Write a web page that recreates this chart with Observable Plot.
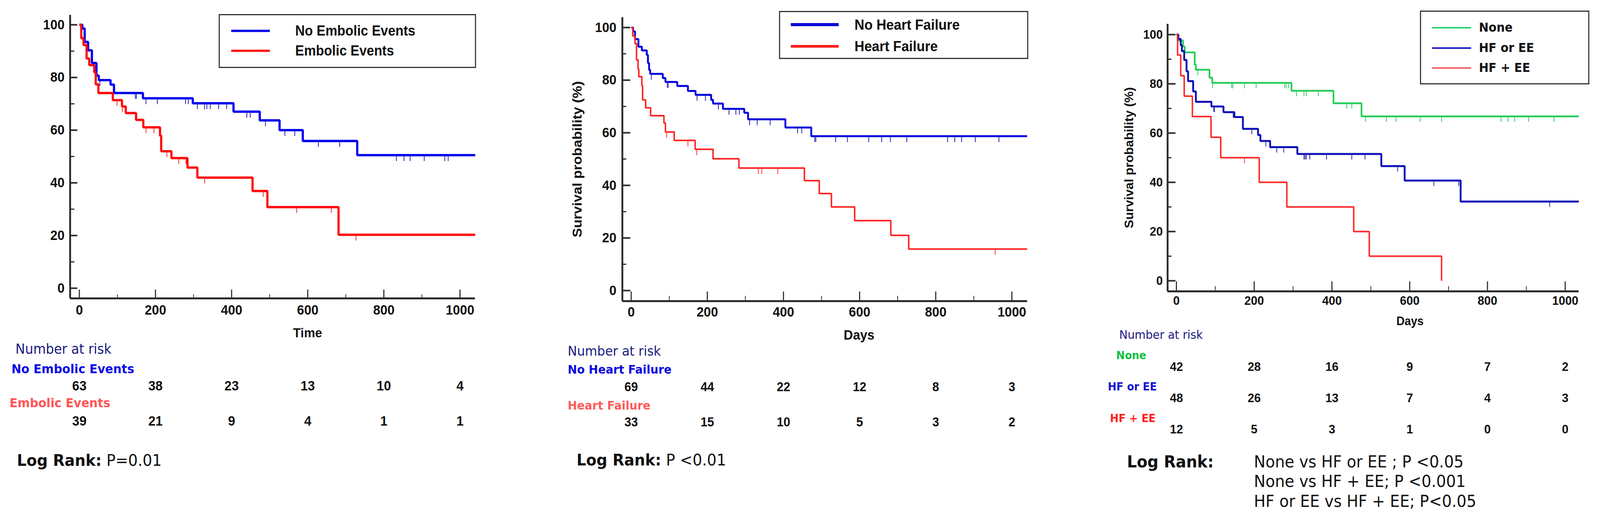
<!DOCTYPE html>
<html><head><meta charset="utf-8">
<script src="https://cdn.jsdelivr.net/npm/d3@7"></script>
<script src="https://cdn.jsdelivr.net/npm/@observablehq/plot@0.6"></script>
<style>
html,body{margin:0;padding:0;background:#fff;overflow:hidden;}
#page{position:relative;width:4346px;height:1328px;overflow:hidden;background:#fff;transform-origin:0 0;}
.panel{position:absolute;top:0;}
.t{position:absolute;white-space:nowrap;line-height:1;transform:translateY(-50%);}
.box{position:absolute;border:3px solid #333;box-sizing:border-box;background:#fff;}
.ln{position:absolute;}
</style></head><body><div id="page"></div>
<script>
// ---------------- data ----------------
const riskDays = [0, 200, 400, 600, 800, 1000];
const yMajor = [0, 20, 40, 60, 80, 100];
const yMinor = [10, 30, 50, 70, 90];
const xMajor = [0, 200, 400, 600, 800, 1000];
const xMinor = [100, 300, 500, 700, 900];

// Panel A: embolic events
const eeNoTime = [0, 8, 14, 23, 33, 45, 51, 82, 91, 167, 298, 405, 474, 526, 587, 730, 1040];
const eeNoSurv = [100, 98.6, 93.5, 90.3, 85.5, 80.7, 79.0, 77.3, 74.1, 72.1, 70.2, 67.0, 63.7, 60.0, 55.9, 50.5, 50.5];
const eeNoCens = [54, 147, 150, 175, 205, 279, 286, 310, 329, 335, 344, 366, 387, 440, 449, 489, 540, 566, 628, 684, 833, 853, 869, 906, 960, 969];
const eeYesTime = [0, 5, 11, 19, 26, 39, 43, 50, 88, 112, 122, 149, 168, 212, 215, 242, 284, 310, 455, 494, 681, 1040];
const eeYesSurv = [100, 94.9, 92.3, 87.2, 84.7, 82.0, 77.4, 74.1, 71.4, 69.0, 66.5, 63.9, 61.1, 57.9, 52.0, 49.4, 45.8, 42.0, 36.9, 30.8, 20.3, 20.3];
const eeYesCens = [99, 113, 175, 196, 230, 261, 280, 329, 483, 571, 662, 727];
const eeNoRisk = [63, 38, 23, 13, 10, 4];
const eeYesRisk = [39, 21, 9, 4, 1, 1];

// Panel B: heart failure
const hfNoTime = [0, 5, 10, 19, 28, 41, 44, 47, 50, 83, 90, 121, 149, 169, 210, 215, 241, 297, 307, 405, 473, 1040];
const hfNoSurv = [100, 98.5, 95.6, 92.7, 91.3, 89.6, 86.5, 83.9, 82.4, 80.8, 79.3, 77.8, 75.9, 74.4, 72.5, 71.1, 69.1, 67.6, 65.1, 62.0, 58.7, 58.7];
const hfNoCens = [53, 95, 97, 173, 195, 229, 257, 275, 284, 311, 331, 365, 437, 448, 482, 485, 537, 568, 624, 658, 681, 724, 831, 850, 868, 904, 966];
const hfYesTime = [0, 4, 10, 14, 18, 20, 28, 30, 38, 51, 86, 90, 113, 168, 215, 283, 455, 494, 526, 587, 682, 729, 1040];
const hfYesSurv = [100, 96.8, 93.9, 87.7, 84.2, 81.3, 77.9, 72.5, 69.5, 66.5, 63.7, 60.3, 57.1, 53.7, 50.1, 46.6, 41.8, 36.9, 31.8, 26.6, 21.0, 15.8, 15.8];
const hfYesCens = [93, 149, 172, 334, 343, 385, 956];
const hfNoRisk = [69, 44, 22, 12, 8, 3];
const hfYesRisk = [33, 15, 10, 5, 3, 2];

// Panel C: combined
const noneTime = [0, 3, 17, 21, 47, 50, 85, 92, 296, 404, 476, 1035];
const noneSurv = [100, 97.6, 95.2, 92.8, 87.8, 85.7, 82.5, 80.4, 77.2, 72.1, 66.8, 66.8];
const noneCens = [55, 93, 142, 145, 175, 205, 278, 282, 288, 309, 328, 334, 365, 438, 451, 486, 540, 565, 627, 682, 835, 853, 870, 906, 971];
const oneTime = [0, 5, 11, 14, 20, 26, 30, 43, 50, 90, 121, 149, 171, 210, 216, 241, 311, 527, 587, 731, 1035];
const oneSurv = [100, 98.2, 95.7, 93.3, 89.7, 85.1, 81.1, 76.9, 72.7, 70.8, 68.5, 66.5, 61.7, 59.2, 56.8, 54.3, 51.5, 46.6, 40.7, 32.2, 32.2];
const oneCens = [96, 98, 146, 194, 230, 258, 276, 328, 331, 334, 343, 386, 451, 485, 569, 662, 726, 960];
const bothTime = [0, 3, 11, 20, 41, 89, 114, 213, 284, 456, 496, 682];
const bothSurv = [100, 91.7, 83.3, 75.0, 66.7, 58.3, 50.0, 40.0, 30.0, 20.0, 10.0, 0];
const bothCens = [175];
const noneRisk = [42, 28, 16, 9, 7, 2];
const oneRisk = [48, 26, 13, 7, 4, 3];
const bothRisk = [12, 5, 3, 1, 0, 0];

// ---------------- helpers ----------------
const AX = "'Liberation Sans', Arial, Helvetica, sans-serif";
const DV = "'DejaVu Sans', Verdana, sans-serif";
const page = document.getElementById("page");

function fit() {
  const sx = window.innerWidth / 4346, sy = window.innerHeight / 1328;
  const ok = sx > 0 && sy > 0 && (Math.abs(sx - 1) > 0.001 || Math.abs(sy - 1) > 0.001);
  page.style.transform = ok ? `scale(${sx}, ${sy})` : "none";
}
fit();
window.addEventListener("resize", fit);

function survAt(times, surv, t) {
  let v = surv[0];
  for (let i = 0; i < times.length; i++) if (times[i] <= t) v = surv[i];
  return v;
}
function censorSymbol(len) {
  return {draw(ctx) { ctx.moveTo(0, 0); ctx.lineTo(0, len); }};
}

function panel(c) {
  const fw = c.width - c.marginLeft - c.marginRight;
  const fh = c.height - c.marginTop - c.marginBottom;
  const marks = [];
  for (const s of c.series) {
    const pts = s.time.map((t, i) => ({t, s: s.surv[i]}));
    marks.push(Plot.line(pts, {x: "t", y: "s", curve: "step-after", stroke: s.color, strokeWidth: s.width, strokeLinejoin: "miter", strokeLinecap: "butt"}));
    const cp = s.cens.map(t => ({t, s: survAt(s.time, s.surv, t)}));
    marks.push(Plot.dot(cp, {x: "t", y: "s", symbol: censorSymbol(c.censLen), stroke: s.censColor, strokeWidth: 2.2, fill: "none"}));
  }
  marks.push(Plot.ruleX([c.xDomain[0]], {stroke: "#2b2b2b", strokeWidth: 5}));
  marks.push(Plot.ruleY([c.yDomain[0]], {stroke: "#2b2b2b", strokeWidth: 5}));
  marks.push(Plot.tickY(yMajor, {y: d => d, insetRight: fw - c.yTick[0], stroke: "#2b2b2b", strokeWidth: 4}));
  marks.push(Plot.tickY(yMinor, {y: d => d, insetRight: fw - c.yTick[1], stroke: "#2b2b2b", strokeWidth: 3}));
  marks.push(Plot.tickX(xMajor, {x: d => d, insetTop: fh - c.xTick[0], stroke: "#2b2b2b", strokeWidth: 3}));
  marks.push(Plot.tickX(xMinor, {x: d => d, insetTop: fh - c.xTick[1], stroke: "#2b2b2b", strokeWidth: 2}));
  marks.push(Plot.axisY({ticks: yMajor, tickSize: 0, tickPadding: c.yPad, tickFormat: "d", label: null, fontSize: c.tickFont, fontWeight: "bold", fontFamily: AX}));
  marks.push(Plot.axisX({ticks: xMajor, tickSize: 0, tickPadding: c.xPad, tickFormat: "d", label: null, fontSize: c.tickFont, fontWeight: "bold", fontFamily: AX}));
  marks.push(Plot.text([c.xTitle], {text: d => d, frameAnchor: "bottom", textAnchor: "middle", lineAnchor: "middle", dx: c.xTitleDx, dy: c.xTitleDy, fontSize: c.xTitleFont, fontWeight: "bold", fontFamily: AX}));
  if (c.yTitle) marks.push(Plot.text([c.yTitle], {text: d => d, frameAnchor: "left", textAnchor: "middle", lineAnchor: "middle", dx: c.yTitleDx, rotate: -90, fontSize: c.yTitleFont, fontWeight: "bold", fontFamily: AX}));
  for (const r of c.risk) {
    marks.push(Plot.text(riskDays.map((d, i) => ({d, n: r.values[i]})), {x: "d", text: "n", frameAnchor: "bottom", textAnchor: "middle", lineAnchor: "middle", dy: r.dy, fontSize: c.riskFont, fontWeight: "bold", fontFamily: AX, fill: "#111"}));
  }
  const svg = Plot.plot({
    width: c.width, height: c.height,
    marginLeft: c.marginLeft, marginRight: c.marginRight, marginTop: c.marginTop, marginBottom: c.marginBottom,
    x: {type: "linear", domain: c.xDomain},
    y: {type: "linear", domain: c.yDomain},
    style: {fontFamily: AX, color: "#111", background: "transparent", overflow: "visible"},
    marks
  });
  const div = document.createElement("div");
  div.className = "panel";
  div.style.left = c.left + "px";
  div.appendChild(svg);
  page.appendChild(div);
}

function txt(html, left, cy, font, size, weight, color) {
  const d = document.createElement("div");
  d.className = "t";
  d.innerHTML = html;
  Object.assign(d.style, {left: left + "px", top: cy + "px", fontFamily: font, fontSize: size + "px", fontWeight: weight, color});
  page.appendChild(d);
}
function legend(box, items, lineX, lineW, textX, font, size) {
  const b = document.createElement("div");
  b.className = "box";
  Object.assign(b.style, {left: box[0] + "px", top: box[1] + "px", width: box[2] + "px", height: box[3] + "px"});
  page.appendChild(b);
  for (const it of items) {
    const l = document.createElement("div");
    l.className = "ln";
    Object.assign(l.style, {left: lineX + "px", top: (it.cy - it.th / 2) + "px", width: lineW + "px", height: it.th + "px", background: it.color});
    page.appendChild(l);
    txt(it.label, textX, it.cy, font, size, "bold", "#111");
  }
}

// ---------------- panels ----------------
panel({
  left: 0, width: 1450, height: 1328, marginLeft: 190, marginRight: 160, marginTop: 38, marginBottom: 565,
  xDomain: [-24.2, 1039.7], yDomain: [-3.86, 103.7],
  yTick: [20, 12], xTick: [22, 10], yPad: 15, xPad: 17, tickFont: 35, censLen: 15,
  xTitle: "Time", xTitleDx: 95, xTitleDy: 89, xTitleFont: 34,
  series: [
    {time: eeNoTime, surv: eeNoSurv, cens: eeNoCens, color: "#0000ee", width: 6, censColor: "#2a2ab8"},
    {time: eeYesTime, surv: eeYesSurv, cens: eeYesCens, color: "#ff0a0a", width: 6, censColor: "#ff3030"}
  ],
  riskFont: 35,
  risk: [{values: eeNoRisk, dy: 224}, {values: eeYesRisk, dy: 314}]
});
panel({
  left: 1450, width: 1450, height: 1328, marginLeft: 240, marginRight: 110, marginTop: 44, marginBottom: 558,
  xDomain: [-23.2, 1040.6], yDomain: [-4.01, 103.86],
  yTick: [22, 11], xTick: [24, 13], yPad: 16, xPad: 15, tickFont: 35, censLen: 15,
  xTitle: "Days", xTitleDx: 93, xTitleDy: 87, xTitleFont: 35,
  yTitle: "Survival probability (%)", yTitleDx: -122, yTitleFont: 36,
  series: [
    {time: hfNoTime, surv: hfNoSurv, cens: hfNoCens, color: "#0000dd", width: 5, censColor: "#2a2ab8"},
    {time: hfYesTime, surv: hfYesSurv, cens: hfYesCens, color: "#ff1f1f", width: 4, censColor: "#ff3a3a"}
  ],
  riskFont: 33,
  risk: [{values: hfNoRisk, dy: 220}, {values: hfYesRisk, dy: 310}]
});
panel({
  left: 2900, width: 1446, height: 1328, marginLeft: 271, marginRight: 58, marginTop: 61, marginBottom: 583,
  xDomain: [-22.7, 1035], yDomain: [-4.29, 104.29],
  yTick: [22, 11], xTick: [25, 13], yPad: 13, xPad: 12, tickFont: 32, censLen: 14,
  xTitle: "Days", xTitleDx: 100, xTitleDy: 77, xTitleFont: 31,
  yTitle: "Survival probability (%)", yTitleDx: -104, yTitleFont: 32.5,
  series: [
    {time: noneTime, surv: noneSurv, cens: noneCens, color: "#22cc55", width: 4.5, censColor: "#3ccc6a"},
    {time: oneTime, surv: oneSurv, cens: oneCens, color: "#0d0db8", width: 5, censColor: "#3030b0"},
    {time: bothTime, surv: bothSurv, cens: bothCens, color: "#ff2626", width: 4, censColor: "#ff4040"}
  ],
  riskFont: 32,
  risk: [{values: noneRisk, dy: 193}, {values: oneRisk, dy: 273}, {values: bothRisk, dy: 353}]
});

// ---------------- legends ----------------
legend([594, 36, 699, 138], [
  {label: "No Embolic Events", cy: 79, color: "#0a0ae8", th: 6},
  {label: "Embolic Events", cy: 130, color: "#ff1a1a", th: 6}
], 628, 105, 802, AX, 36);
legend([2116, 28, 677, 123], [
  {label: "No Heart Failure", cy: 63, color: "#0a0ad8", th: 8},
  {label: "Heart Failure", cy: 118, color: "#ff2020", th: 7}
], 2148, 130, 2321, AX, 37);
legend([3857, 27, 460, 189], [
  {label: "None", cy: 71, color: "#2bd46a", th: 4},
  {label: "HF or EE", cy: 123, color: "#1a1ac0", th: 4},
  {label: "HF + EE", cy: 174, color: "#f26060", th: 4}
], 3890, 106, 4017, DV, 31.5);

// ---------------- number at risk labels & log rank ----------------
const NAVY = "#1a1a7e";
txt("Number at risk", 42, 893, DV, 35, "normal", NAVY);
txt("No Embolic Events", 31, 944, DV, 32, "bold", "#0a0ae6");
txt("Embolic Events", 26, 1031, DV, 32, "bold", "#ff5555");
txt("<b>Log Rank:</b> P=0.01", 46, 1178, DV, 41, "normal", "#111");

txt("Number at risk", 1542, 898, DV, 34, "normal", NAVY);
txt("No Heart Failure", 1542, 946, DV, 30.5, "bold", "#0a0ae0");
txt("Heart Failure", 1542, 1038, DV, 30.5, "bold", "#ff5a5a");
txt("<b>Log Rank:</b> P &lt;0.01", 1566, 1177, DV, 41, "normal", "#111");

txt("Number at risk", 3040, 857, DV, 30.5, "normal", NAVY);
txt("None", 3032, 910, DV, 28, "bold", "#12c041");
txt("HF or EE", 3009, 990, DV, 28, "bold", "#1515d0");
txt("HF + EE", 3015, 1071, DV, 28, "bold", "#ff2020");
txt("<b>Log Rank:</b>", 3061, 1182, DV, 42, "normal", "#111");
txt("None vs HF or EE ; P &lt;0.05", 3406, 1182, DV, 42, "normal", "#111");
txt("None vs HF + EE; P &lt;0.001", 3406, 1232, DV, 42, "normal", "#111");
txt("HF or EE vs HF + EE; P&lt;0.05", 3406, 1283, DV, 42, "normal", "#111");
</script></body></html>
